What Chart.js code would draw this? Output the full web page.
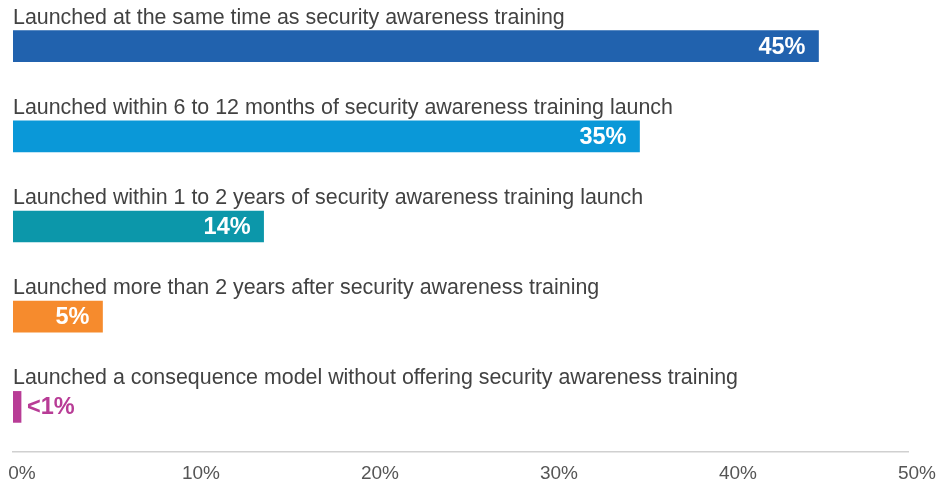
<!DOCTYPE html>
<html>
<head>
<meta charset="utf-8">
<script src="https://cdn.jsdelivr.net/npm/chart.js@4.4.1/dist/chart.umd.min.js"></script>
<style>
  html, body { margin: 0; padding: 0; background: #fff; }
  #wrap { width: 950px; height: 487px; position: relative; }
</style>
</head>
<body>
<div id="wrap"><canvas id="timingChart"></canvas></div>
<script>
// Timing of consequence model launch relative to awareness training
const categories = [
    'Launched at the same time as security awareness training',
    'Launched within 6 to 12 months of security awareness training launch',
    'Launched within 1 to 2 years of security awareness training launch',
    'Launched more than 2 years after security awareness training',
    'Launched a consequence model without offering security awareness training'
];
const shares = [45, 35, 14, 5, 0.45];
const barColors = ['#2162ae', '#0a98d8', '#0c97aa', '#f68b2d', '#b83c96'];
const xTicks = [0, 10, 20, 30, 40, 50];

const FONT = '"Liberation Sans", Arial, Helvetica, sans-serif';

function pctLabel(v) {
    return v < 1 ? '<1%' : v + '%';
}

// Category captions above bars and value labels inside / beside them
const barText = {
    id: 'barText',
    afterDatasetsDraw(chart) {
        const ctx = chart.ctx;
        const meta = chart.getDatasetMeta(0);
        ctx.save();
        meta.data.forEach((bar, i) => {
            const top = bar.y - bar.height / 2;
            ctx.font = '21.4px ' + FONT;
            ctx.fillStyle = '#424242';
            ctx.textAlign = 'left';
            ctx.textBaseline = 'alphabetic';
            ctx.fillText(categories[i], bar.base, top - 7);

            const txt = pctLabel(shares[i]);
            ctx.font = 'bold 23.5px ' + FONT;
            ctx.textBaseline = 'middle';
            const w = ctx.measureText(txt).width;
            if (bar.x - bar.base > w + 20) {
                ctx.fillStyle = '#fff';
                ctx.textAlign = 'right';
                ctx.fillText(txt, bar.x - 13, bar.y + 1);
            } else {
                ctx.fillStyle = barColors[i];
                ctx.textAlign = 'left';
                ctx.fillText(txt, bar.x + 6, bar.y + 1);
            }
        });
        ctx.restore();
    }
};

new Chart(document.getElementById('timingChart'), {
    type: 'bar',
    data: {
        labels: categories,
        datasets: [{
            data: shares,
            backgroundColor: barColors,
            borderWidth: 0,
            barThickness: 31
        }]
    },
    options: {
        indexAxis: 'y',
        responsive: true,
        maintainAspectRatio: false,
        animation: false,
        layout: { padding: { left: 13, right: 42, top: 1, bottom: 0 } },
        plugins: {
            legend: { display: false },
            tooltip: { enabled: false }
        },
        scales: {
            y: { display: false },
            x: {
                min: 0,
                max: 50,
                afterBuildTicks: (axis) => { axis.ticks = xTicks.map(v => ({ value: v })); },
                afterFit: (axis) => {
                    axis.paddingLeft = 0;
                    axis.paddingRight = 0;
                    axis.height = 35;
                },
                grid: { display: false, drawTicks: false },
                border: { display: true, color: '#d0d0d0', width: 1.5 },
                ticks: {
                    padding: 10,
                    labelOffset: 9,
                    color: '#555',
                    font: { family: FONT, size: 19 },
                    callback: (v) => v + '%'
                }
            }
        }
    },
    plugins: [barText]
});
</script>
</body>
</html>
